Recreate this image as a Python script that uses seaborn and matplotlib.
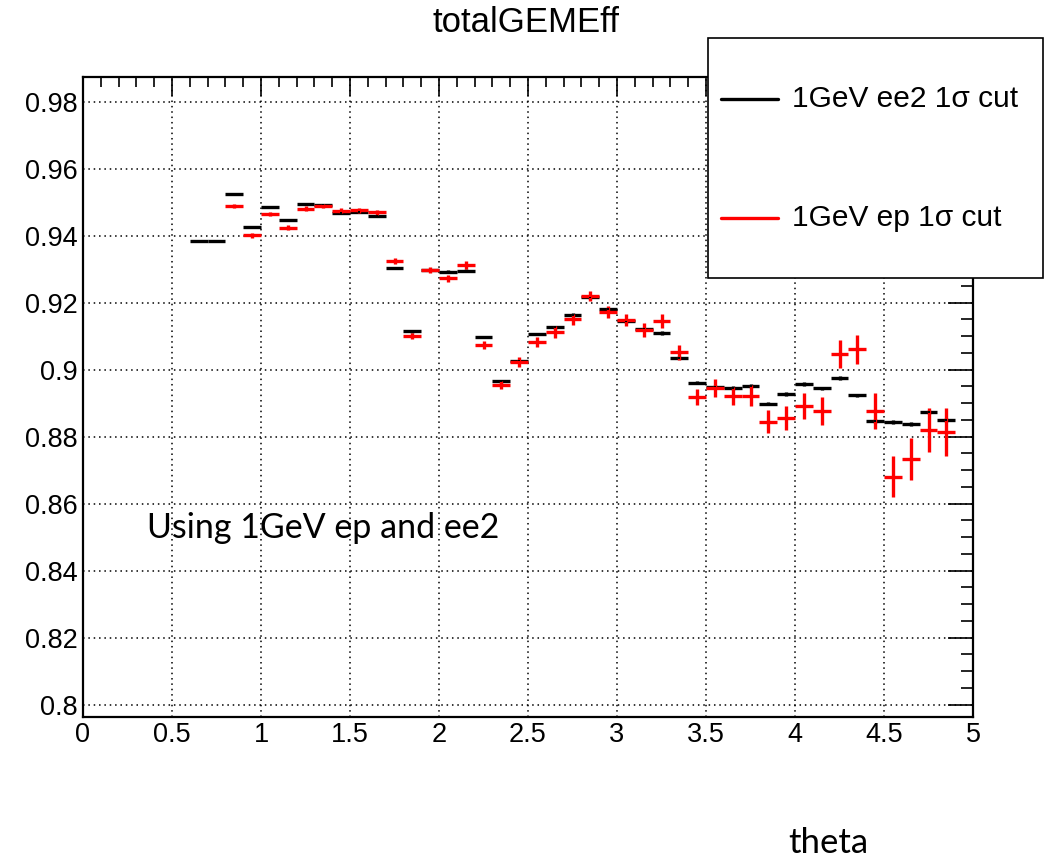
import numpy as np
import pandas as pd
import seaborn as sns
import matplotlib
matplotlib.use("Agg")
import matplotlib.pyplot as plt
from matplotlib.ticker import MultipleLocator, FuncFormatter
from matplotlib.lines import Line2D
from matplotlib.patches import Rectangle

# theta bin centres (bin width 0.1)
theta = [0.65, 0.75, 0.85, 0.95, 1.05, 1.15, 1.25, 1.35, 1.45, 1.55, 1.65,
         1.75, 1.85, 1.95, 2.05, 2.15, 2.25, 2.35, 2.45, 2.55, 2.65, 2.75,
         2.85, 2.95, 3.05, 3.15, 3.25, 3.35, 3.45, 3.55, 3.65, 3.75, 3.85,
         3.95, 4.05, 4.15, 4.25, 4.35, 4.45, 4.55, 4.65, 4.75, 4.85]
bin_half_width = 0.05

# 1GeV ee2 efficiency and its uncertainty
eff_ee2 = [0.9384, 0.9383, 0.9524, 0.9427, 0.9487, 0.9448, 0.9494, 0.9492,
           0.9467, 0.9471, 0.9459, 0.9303, 0.9115, 0.9298, 0.9293, 0.9296,
           0.9098, 0.8965, 0.9025, 0.9107, 0.9127, 0.9164, 0.9216, 0.9181,
           0.9144, 0.9121, 0.9110, 0.9036, 0.8961, 0.8949, 0.8945, 0.8951,
           0.8899, 0.8928, 0.8957, 0.8944, 0.8975, 0.8924, 0.8848, 0.8845,
           0.8838, 0.8875, 0.8850]
err_ee2 = [0.0003, 0.0003, 0.0003, 0.0003, 0.0003, 0.0003, 0.0003, 0.0003,
           0.0003, 0.0003, 0.0003, 0.0003, 0.0004, 0.0004, 0.0004, 0.0004,
           0.0004, 0.0004, 0.0004, 0.0004, 0.0004, 0.0004, 0.0004, 0.0004,
           0.0004, 0.0004, 0.0005, 0.0005, 0.0005, 0.0005, 0.0005, 0.0005,
           0.0005, 0.0005, 0.0005, 0.0005, 0.0005, 0.0005, 0.0006, 0.0006,
           0.0006, 0.0006, 0.0006]

# 1GeV ep efficiency and its uncertainty (no entries in the first two bins)
eff_ep = [np.nan, np.nan, 0.9489, 0.9401, 0.9465, 0.9424, 0.9481, 0.9489,
          0.9475, 0.9476, 0.9470, 0.9325, 0.9100, 0.9299, 0.9273, 0.9313,
          0.9074, 0.8953, 0.9024, 0.9083, 0.9112, 0.9151, 0.9219, 0.9172,
          0.9148, 0.9119, 0.9146, 0.9052, 0.8918, 0.8946, 0.8921, 0.8923,
          0.8845, 0.8856, 0.8892, 0.8877, 0.9047, 0.9061, 0.8877, 0.8681,
          0.8734, 0.8820, 0.8814]
err_ep = [np.nan, np.nan, 0.0007, 0.0007, 0.0007, 0.0007, 0.0007, 0.0007,
          0.0007, 0.0007, 0.0008, 0.0008, 0.0009, 0.0009, 0.0010, 0.0012,
          0.0012, 0.0012, 0.0015, 0.0015, 0.0018, 0.0016, 0.0015, 0.0017,
          0.0018, 0.0020, 0.0020, 0.0022, 0.0024, 0.0026, 0.0026, 0.0030,
          0.0034, 0.0037, 0.0039, 0.0042, 0.0041, 0.0044, 0.0054, 0.0060,
          0.0062, 0.0065, 0.0072]

series = [
    ("1GeV ee2 1σ cut", eff_ee2, err_ee2, "black"),
    ("1GeV ep 1σ cut", eff_ep, err_ep, "#ff0000"),
]

sns.set_theme(style="white")
plt.rcParams["font.family"] = ["Liberation Sans", "DejaVu Sans"]

fig = plt.figure(figsize=(10.46, 8.60), dpi=100)
ax = fig.add_axes([83 / 1046, 1 - 716.7 / 860, (973 - 83) / 1046, (716.7 - 77) / 860])

for label, eff, err, color in series:
    df = pd.DataFrame({"theta": theta, "eff": eff, "err": err}).dropna()
    ax.errorbar(df["theta"], df["eff"], xerr=bin_half_width, yerr=df["err"],
                fmt="none", ecolor=color, elinewidth=2.4, capsize=0, zorder=3)
    sns.scatterplot(data=df, x="theta", y="eff", ax=ax, color=color,
                    marker="s", s=3, linewidth=0, zorder=4, legend=False)

ax.set_xlim(0, 5)
ax.set_ylim(0.7964, 0.9874)
ax.set_xlabel("")
ax.set_ylabel("")

ax.xaxis.set_major_locator(MultipleLocator(0.5))
ax.xaxis.set_minor_locator(MultipleLocator(0.1))
ax.yaxis.set_major_locator(MultipleLocator(0.02))
ax.yaxis.set_minor_locator(MultipleLocator(0.005))
fmt = FuncFormatter(lambda v, pos: f"{v:g}")
ax.xaxis.set_major_formatter(fmt)
ax.yaxis.set_major_formatter(fmt)

ax.tick_params(which="both", direction="in", top=True, right=True,
               color="black", width=1.2, labelsize=19.5, labelcolor="black")
ax.tick_params(axis="x", which="major", length=14, pad=4)
ax.tick_params(axis="x", which="minor", length=7)
ax.tick_params(axis="y", which="major", length=18, pad=4)
ax.tick_params(axis="y", which="minor", length=9)

ax.grid(True, which="major", color="black", linestyle=(0, (1, 2.5)), linewidth=1.1)
for sp in ax.spines.values():
    sp.set_visible(True)
    sp.set_color("black")
    sp.set_linewidth(1.6)

fig.text(526 / 1046, 1 - 22 / 860, "totalGEMEff", ha="center", va="center",
         fontsize=25, color="black")
fig.text(828 / 1046, 1 - 843 / 860, "theta", ha="center", va="center",
         fontsize=25, color="black", family=["Lato", "DejaVu Sans"])
ax.text(0.357, 0.8527, "Using 1GeV ep and ee2", ha="left", va="center",
        fontsize=24.5, color="black", family=["Lato", "DejaVu Sans"])

# legend box drawn in figure coordinates
fig.patches.append(Rectangle((708 / 1046, 1 - 278 / 860), (1043 - 708) / 1046,
                             (278 - 38) / 860, transform=fig.transFigure,
                             facecolor="white", edgecolor="black", linewidth=1.2,
                             zorder=10))
for (label, _, _, color), ypix in zip(series, [99, 218]):
    yf = 1 - ypix / 860
    fig.add_artist(Line2D([721 / 1046, 778 / 1046], [yf, yf], color=color,
                          linewidth=2.4, transform=fig.transFigure, zorder=11))
    fig.text(792 / 1046, yf, label, ha="left", va="center", fontsize=21.5,
             color="black", zorder=12)

fig.savefig("out.png", dpi=100)
